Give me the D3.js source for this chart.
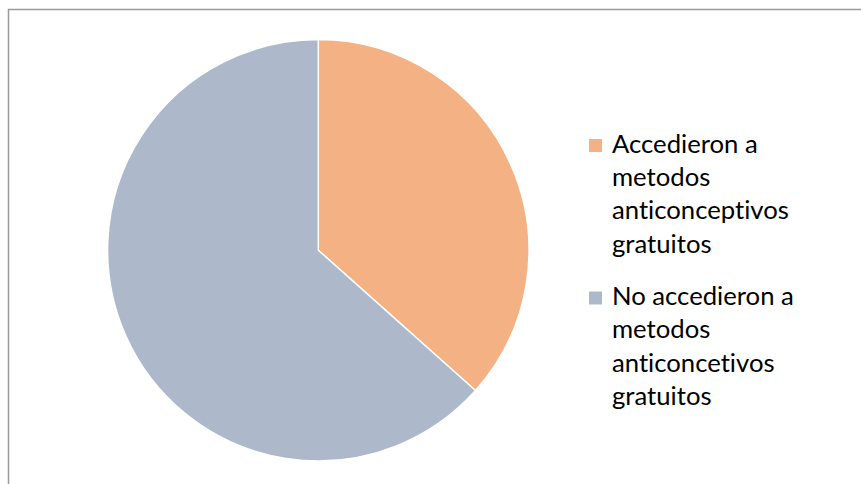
<!DOCTYPE html>
<html><head><meta charset="utf-8">
<script src="https://cdn.jsdelivr.net/npm/d3@7"></script>
<style>html,body{margin:0;padding:0;background:#fff;}svg{display:block;}text{font-variant-ligatures:none;}</style>
</head><body>
<svg id="chart" width="861" height="484"></svg>
<script>
const categories = ["Accedieron a metodos anticonceptivos gratuitos", "No accedieron a metodos anticoncetivos gratuitos"];
const values = [36.6, 63.4];
const legendLines = [["Accedieron a", "metodos", "anticonceptivos", "gratuitos"], ["No accedieron a", "metodos", "anticoncetivos", "gratuitos"]];
const colors = ["#F4B183", "#ADB9CA"];

const svg = d3.select("#chart");
svg.append("rect").attr("x", 8.5).attr("y", 9.5).attr("width", 900).attr("height", 600)
  .attr("fill", "none").attr("stroke", "#9a9a9a").attr("stroke-width", 1.5);

const cx = 318.3, cy = 250.2, r = 210.7;
const pie = d3.pie().sort(null).value(d => d)(values);
const arc = d3.arc().innerRadius(0).outerRadius(r);
const g = svg.append("g").attr("transform", `translate(${cx},${cy})`);
g.selectAll("path").data(pie).enter().append("path")
  .attr("d", arc).attr("fill", (d, i) => colors[i])
  .attr("stroke", "#fff").attr("stroke-width", 1.5).attr("stroke-linejoin", "round");

// legend
const font = "Lato, 'Open Sans', sans-serif";
const probe = svg.append("text").attr("font-family", font).attr("font-size", 100).text("anticonceptivos");
const w100 = probe.node().getComputedTextLength();
probe.remove();
const fs = 100 * 177 / w100;
const lg = svg.append("g");
const starts = [152.5, 305];
const lh = 33.4;
legendLines.forEach((lines, i) => {
  lg.append("rect").attr("x", 589).attr("y", starts[i] - 13.5).attr("width", 13).attr("height", 13).attr("fill", colors[i]);
  const t = lg.append("text").attr("font-family", font).attr("font-size", fs).attr("fill", "#000");
  lines.forEach((l, j) => t.append("tspan").attr("x", 612).attr("y", starts[i] + j * lh).text(l));
});
</script>
</body></html>
